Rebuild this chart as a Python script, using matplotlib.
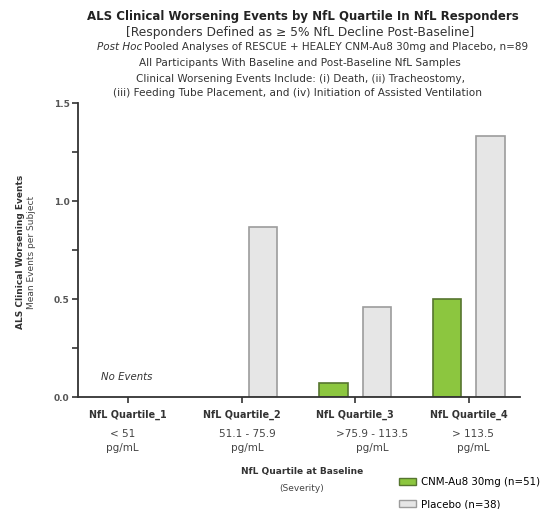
import numpy as np
import matplotlib.pyplot as plt
from matplotlib.patches import Patch
from matplotlib.ticker import MultipleLocator

# data
quartiles = ['NfL Quartile_1', 'NfL Quartile_2', 'NfL Quartile_3', 'NfL Quartile_4']
ranges = ['< 51\npg/mL', '51.1 - 75.9\npg/mL', '>75.9 - 113.5\npg/mL', '> 113.5\npg/mL']
range_dx = [-0.05, 0.05, 0.15, 0.04]   # labels sit a bit off the ticks in the original
cnm_au8 = [0.0, 0.0, 0.07, 0.50]
placebo = [0.0, 0.87, 0.46, 1.33]

green = '#8cc63f'
green_edge = '#56752f'
grey = '#e6e6e6'
grey_edge = '#9c9c9c'

fig = plt.figure(figsize=(5.43, 5.09), dpi=100)
ax = fig.add_axes([0.1436, 0.220, 0.814, 0.5776])

x = np.arange(len(quartiles))
w = 0.25
off = 0.19
for i in range(len(x)):
    if cnm_au8[i] > 0:
        ax.bar(x[i] - off, cnm_au8[i], w, color=green, edgecolor=green_edge, linewidth=1.2)
    if placebo[i] > 0:
        ax.bar(x[i] + off, placebo[i], w, color=grey, edgecolor=grey_edge, linewidth=1.2)

ax.set_xlim(-0.44, 3.45)
ax.set_ylim(0, 1.5)
ax.spines['top'].set_visible(False)
ax.spines['right'].set_visible(False)
for s in ['left', 'bottom']:
    ax.spines[s].set_linewidth(1.3)
    ax.spines[s].set_color('#333333')

ax.set_xticks(x)
ax.set_xticklabels(quartiles, fontsize=6.9, fontweight='bold', color='#333333')
ax.tick_params(axis='x', length=4, width=1.2, color='#333333', pad=5)
ax.yaxis.set_major_locator(MultipleLocator(0.5))
ax.yaxis.set_minor_locator(MultipleLocator(0.25))
ax.yaxis.set_ticks([0, 0.5, 1.0, 1.5])
ax.set_yticklabels(['0.0', '0.5', '1.0', '1.5'], fontsize=6.5, fontweight='bold', color='#555555')
ax.tick_params(axis='y', which='major', length=4, width=1.2, color='#333333', pad=2)
ax.tick_params(axis='y', which='minor', length=4, width=1.2, color='#333333')

for i, r in enumerate(ranges):
    ax.text(x[i] + range_dx[i], -0.11, r, ha='center', va='top', fontsize=7.5, color='#444444',
            transform=ax.get_xaxis_transform(), linespacing=1.4)

ax.text(-0.24, 0.10, 'No Events', fontsize=7.3, style='italic', color='#333333', ha='left', va='center')

# y label
fig.text(0.037, 0.505, 'ALS Clinical Worsening Events', rotation=90, fontsize=6.5,
         fontweight='bold', ha='center', va='center', color='#333333')
fig.text(0.058, 0.505, 'Mean Events per Subject', rotation=90, fontsize=6.5,
         ha='center', va='center', color='#444444')

# titles
cx = 0.553
fig.text(0.557, 0.967, 'ALS Clinical Worsening Events by NfL Quartile In NfL Responders',
         fontsize=8.45, fontweight='bold', ha='center', va='center', color='#222222')
fig.text(cx, 0.937, '[Responders Defined as \u2265 5% NfL Decline Post-Baseline]',
         fontsize=8.8, ha='center', va='center', color='#333333')
fig.text(0.262, 0.908, 'Post Hoc', fontsize=7.5, style='italic', ha='right', va='center', color='#333333')
fig.text(0.265, 0.908, 'Pooled Analyses of RESCUE + HEALEY CNM-Au8 30mg and Placebo, n=89',
         fontsize=7.5, ha='left', va='center', color='#333333')
fig.text(cx, 0.876, 'All Participants With Baseline and Post-Baseline NfL Samples',
         fontsize=7.6, ha='center', va='center', color='#333333')
fig.text(cx, 0.845, 'Clinical Worsening Events Include: (i) Death, (ii) Tracheostomy,',
         fontsize=7.5, ha='center', va='center', color='#333333')
fig.text(0.547, 0.817, '(iii) Feeding Tube Placement, and (iv) Initiation of Assisted Ventilation',
         fontsize=7.6, ha='center', va='center', color='#333333')

# bottom x label
fig.text(0.556, 0.073, 'NfL Quartile at Baseline', fontsize=6.5, fontweight='bold',
         ha='center', va='center', color='#333333')
fig.text(0.556, 0.040, '(Severity)', fontsize=6.5, ha='center', va='center', color='#444444')

handles = [Patch(facecolor=green, edgecolor=green_edge, label='CNM-Au8 30mg (n=51)'),
           Patch(facecolor=grey, edgecolor=grey_edge, label='Placebo (n=38)')]
fig.legend(handles=handles, loc='upper left', bbox_to_anchor=(0.727, 0.071), frameon=False,
           fontsize=7.4, handlelength=1.65, handleheight=0.75, labelspacing=1.2,
           borderaxespad=0, handletextpad=0.55)

fig.savefig('out.png', dpi=100)
